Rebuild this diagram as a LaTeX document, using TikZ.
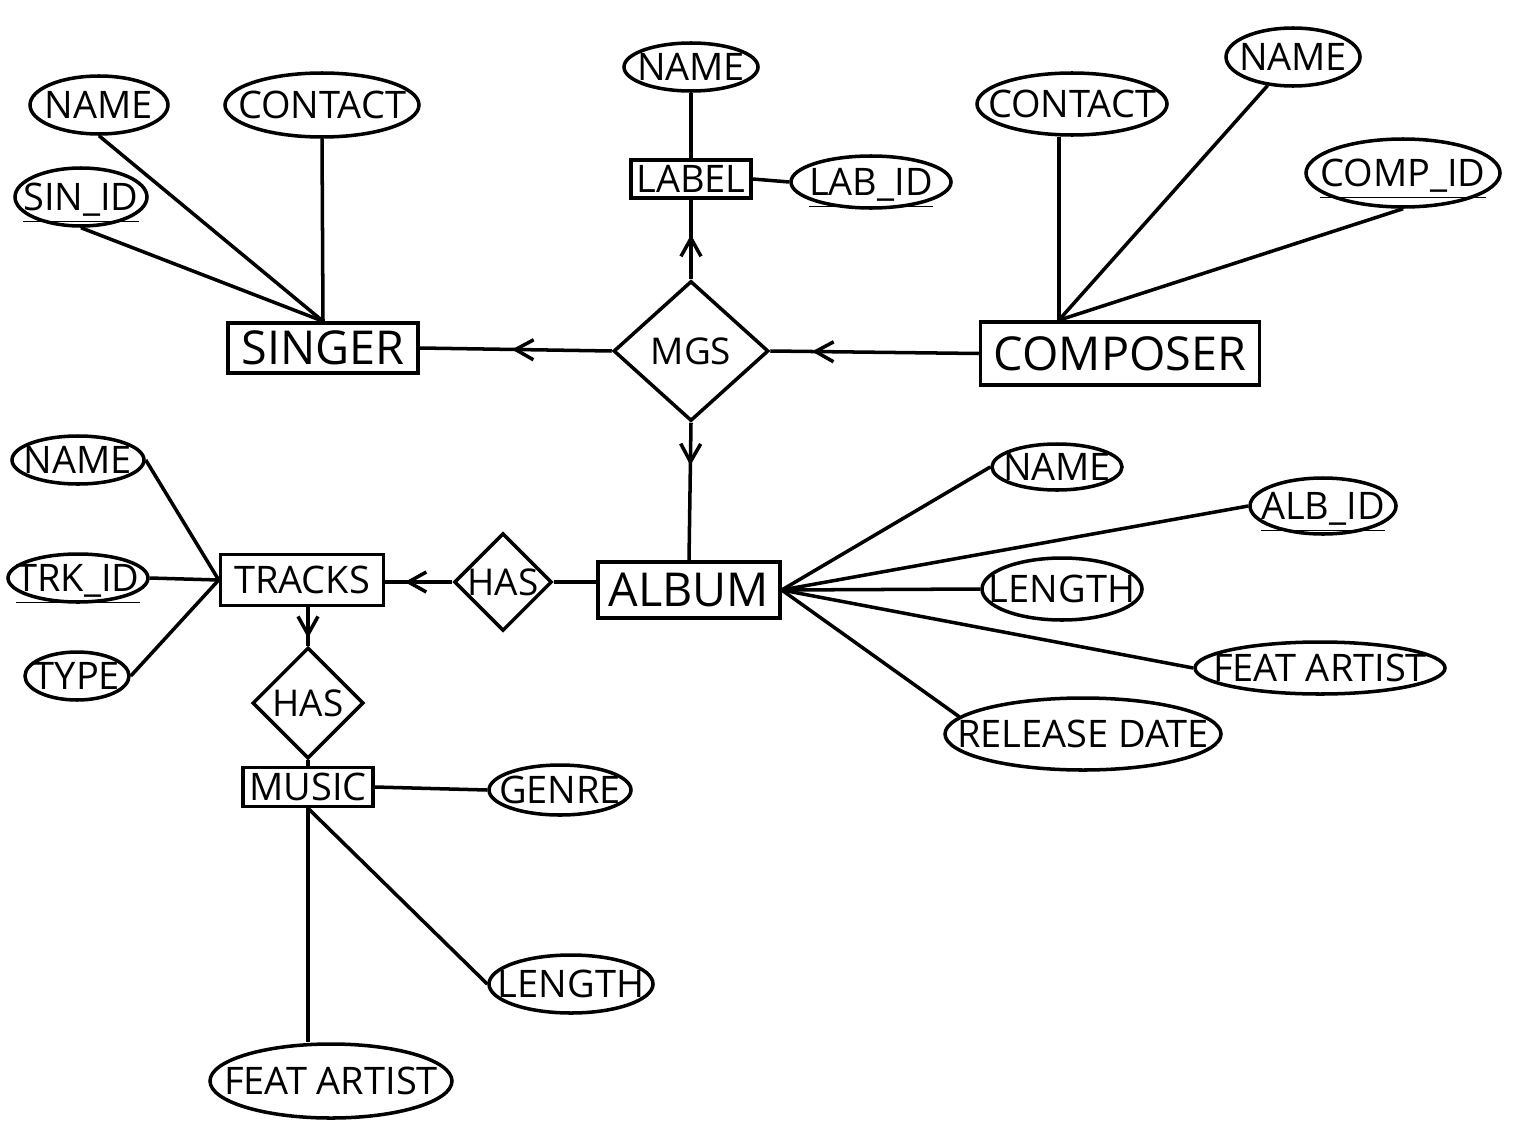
\documentclass[tikz,border=0pt]{standalone}
\usepackage{fontspec}
\setmainfont{Open Sans}
\usetikzlibrary{shapes.geometric, arrows.meta, decorations.markings}

% Underlined key attribute, kept at the height of plain text
\newcommand{\keyattr}[1]{\raisebox{0pt}[\height][0pt]{\underline{#1}}}

\begin{document}
\begin{tikzpicture}[
    % Define ER shape styles
    entity/.style 2 args={rectangle, draw, line width=1pt, inner sep=0pt, minimum width=#1, minimum height=#2, font=\fontsize{10.8}{13}\selectfont},
    bigtext/.style={font=\fontsize{13.3}{16}\selectfont},
    attr/.style 2 args={ellipse, draw, line width=1pt, inner sep=-1cm, minimum width=#1, minimum height=#2, font=\fontsize{10.8}{13}\selectfont},
    rel/.style 2 args={diamond, draw, line width=1pt, inner sep=0pt, minimum width=#1, minimum height=#2, font=\fontsize{10.5}{13}\selectfont},
    conn/.style={line width=1pt},
    % Open arrow head placed along a line
    midarrow/.style={postaction={decorate}, decoration={markings, mark=at position #1 with {\arrow{Straight Barb[length=1.8mm, width=2mm]}}}}
]

% Fix the page size
\useasboundingbox (0,0) rectangle (15.30,-11.46);

% Singer and its attributes
\node[entity={1.90cm}{0.50cm}, bigtext] (singer) at (3.23,-3.48) {SINGER};
\node[attr={1.38cm}{0.58cm}] (sname) at (0.99,-1.05) {NAME};
\node[attr={1.94cm}{0.64cm}] (scontact) at (3.22,-1.05) {CONTACT};
\node[attr={1.32cm}{0.58cm}] (sid) at (0.81,-1.97) {\keyattr{SIN\_ID}};

% Relationship MGS and the label
\node[rel={1.55cm}{1.40cm}] (mgs) at (6.91,-3.51) {MGS};
\node[entity={1.20cm}{0.38cm}] (lab) at (6.91,-1.79) {LABEL};
\node[attr={1.34cm}{0.48cm}] (lname) at (6.91,-0.67) {NAME};
\node[attr={1.60cm}{0.52cm}] (labid) at (8.71,-1.82) {\keyattr{LAB\_ID}};

% Composer and its attributes
\node[entity={2.79cm}{0.63cm}, bigtext] (composer) at (11.20,-3.535) {COMPOSER};
\coordinate (cjoin) at ([xshift=0.8cm]composer.north west);
\node[attr={1.90cm}{0.62cm}] (ccontact) at (10.72,-1.04) {CONTACT};
\node[attr={1.34cm}{0.58cm}] (cname) at (12.93,-0.57) {NAME};
\node[attr={1.94cm}{0.68cm}] (cid) at (14.03,-1.73) {\keyattr{COMP\_ID}};

% Album and its attributes
\node[entity={1.82cm}{0.56cm}, bigtext] (album) at (6.89,-5.90) {ALBUM};
\node[attr={1.30cm}{0.46cm}] (aname) at (10.57,-4.67) {NAME};
\node[attr={1.46cm}{0.56cm}] (aid) at (13.23,-5.06) {\keyattr{ALB\_ID}};
\node[attr={1.60cm}{0.62cm}] (alength) at (10.62,-5.89) {LENGTH};
\node[attr={2.50cm}{0.52cm}] (afeat) at (13.20,-6.68) {FEAT ARTIST};
\node[attr={2.76cm}{0.72cm}] (adate) at (10.83,-7.34) {RELEASE DATE};

% Tracks
\node[rel={0.95cm}{0.90cm}] (has1) at (5.03,-5.82) {HAS};
\node[entity={1.63cm}{0.51cm}] (tracks) at (3.02,-5.80) {TRACKS};
\node[attr={1.32cm}{0.48cm}] (tname) at (0.78,-4.60) {NAME};
\node[attr={1.40cm}{0.48cm}] (tid) at (0.78,-5.78) {\keyattr{TRK\_ID}};
\node[attr={1.04cm}{0.48cm}] (ttype) at (0.77,-6.76) {TYPE};

% Music
\node[rel={1.11cm}{1.11cm}] (has2) at (3.08,-7.03) {HAS};
\node[entity={1.30cm}{0.39cm}] (music) at (3.08,-7.87) {MUSIC};
\node[attr={1.42cm}{0.50cm}] (genre) at (5.60,-7.90) {GENRE};
\node[attr={1.64cm}{0.58cm}] (mlength) at (5.71,-9.84) {LENGTH};
\node[attr={2.42cm}{0.74cm}] (mfeat) at (3.31,-10.81) {FEAT ARTIST};

% Connectors
\foreach \a in {sname.south, sid.south, scontact.south}
    \draw[conn] (singer.north) -- (\a);

\draw[conn, midarrow=0.56] (mgs.north) -- (lab.south);
\draw[conn] (lab.north) -- (lname.south);
\draw[conn] (lab.east) -- (labid.west);

\draw[conn, midarrow=0.52] (mgs.west) -- (singer.east);
\draw[conn, midarrow=0.80] (composer.west) -- (mgs.east);
\draw[conn, midarrow=0.31] (mgs.south) -- (album.north);

\draw[conn] (cjoin) -- (cjoin |- ccontact.south);
\draw[conn] (cjoin) -- (cname);
\draw[conn] (cjoin) -- (cid.south);

\foreach \a in {aname.west, aid.west, alength.west, afeat.west, adate.172}
    \draw[conn] (album.east) -- (\a);

\draw[conn] (has1.east -| album.west) -- (has1.east);
\draw[conn, midarrow=0.71] (has1.west) -- (has1.west -| tracks.east);
\foreach \a in {tname.east, tid.east, ttype.east}
    \draw[conn] (tracks.west) -- (\a);
\draw[conn, midarrow=0.80] (has2.north |- tracks.south) -- (has2.north);

\draw[conn] (has2.south) -- (music.north);
\draw[conn] (music.east) -- (genre.west);
\draw[conn] (music.south) -- (mlength.west);
\draw[conn] (music.south) -- (music.south |- mfeat.north);

\end{tikzpicture}
\end{document}
